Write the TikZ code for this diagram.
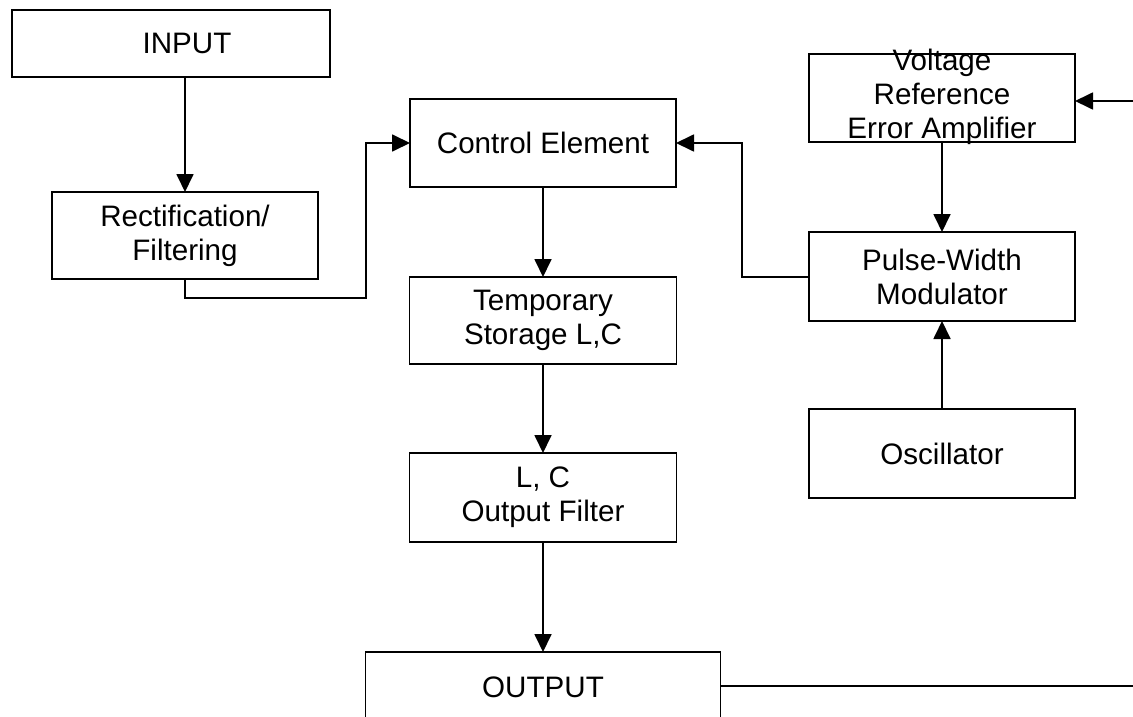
\documentclass[tikz,border=0pt]{standalone}
\usepackage{fontspec}
\setmainfont{Liberation Sans}
\usetikzlibrary{arrows.meta}
\tikzset{
  blk/.style={draw, line width=1.6pt, inner sep=0pt, outer sep=0pt, align=center,
    minimum width=266pt, minimum height=88pt},
  txt/.style={inner sep=0pt, align=center},
  conn/.style={line width=1.8pt},
  arr/.style={conn, -{Triangle[length=18pt,width=17pt]}},
  every node/.style={font=\fontsize{29.6}{34}\selectfont}
}
\begin{document}
\begin{tikzpicture}[x=1pt,y=-1pt]
\useasboundingbox (0,0) rectangle (1133,717);
\clip (0,0) rectangle (1133,717);
\fill[white] (0,0) rectangle (1133,717);
% blocks
\node[blk, minimum width=318pt, minimum height=67pt] (in) at (171,43.5) {\hspace*{32pt}INPUT};
\node[blk, minimum height=87pt] (rect) at (185,235.5) {Rectification/\\Filtering};
\node[blk] (ctrl) at (543,143) {Control Element};
\node[blk, minimum width=267pt, minimum height=87pt] (temp) at (543,320.5) {Temporary\\Storage L,C};
\node[blk, minimum width=267pt, minimum height=89pt] (lc) at (543,497.5) {L, C\\Output Filter};
\node[blk, minimum width=355pt, minimum height=70pt] (out) at (543,687) {OUTPUT};
\node[blk] (vr) at (942,98) {};
\node[txt] (vrt) at (942,97) {Voltage\\Reference\\Error Amplifier};
\node[blk, minimum height=89pt] (pwm) at (942,276.5) {Pulse-Width\\Modulator};
\node[blk, minimum height=89pt] (osc) at (942,453.5) {Oscillator};
% junction and edge points
\coordinate (j1) at (366,298);
\coordinate (j2) at (742,277);
\coordinate (e1) at (1134,686);
\coordinate (e2) at (1134,101);
% connectors
\draw[arr] (rect.north |- in.south) -- (rect.north);
\draw[arr] (rect.south) |- (j1) |- (ctrl.west);
\draw[arr] (pwm.west |- j2) -- (j2) |- (ctrl.east);
\draw[arr] (ctrl.south) -- (temp.north);
\draw[arr] (temp.south) -- (lc.north);
\draw[arr] (lc.south) -- (out.north);
\draw[arr] (vr.south) -- (pwm.north);
\draw[arr] (osc.north) -- (pwm.south);
\draw[conn] (out.east |- e1) -- (e1);
\draw[arr] (e2) -- (e2 -| vr.east);
\end{tikzpicture}
\end{document}
